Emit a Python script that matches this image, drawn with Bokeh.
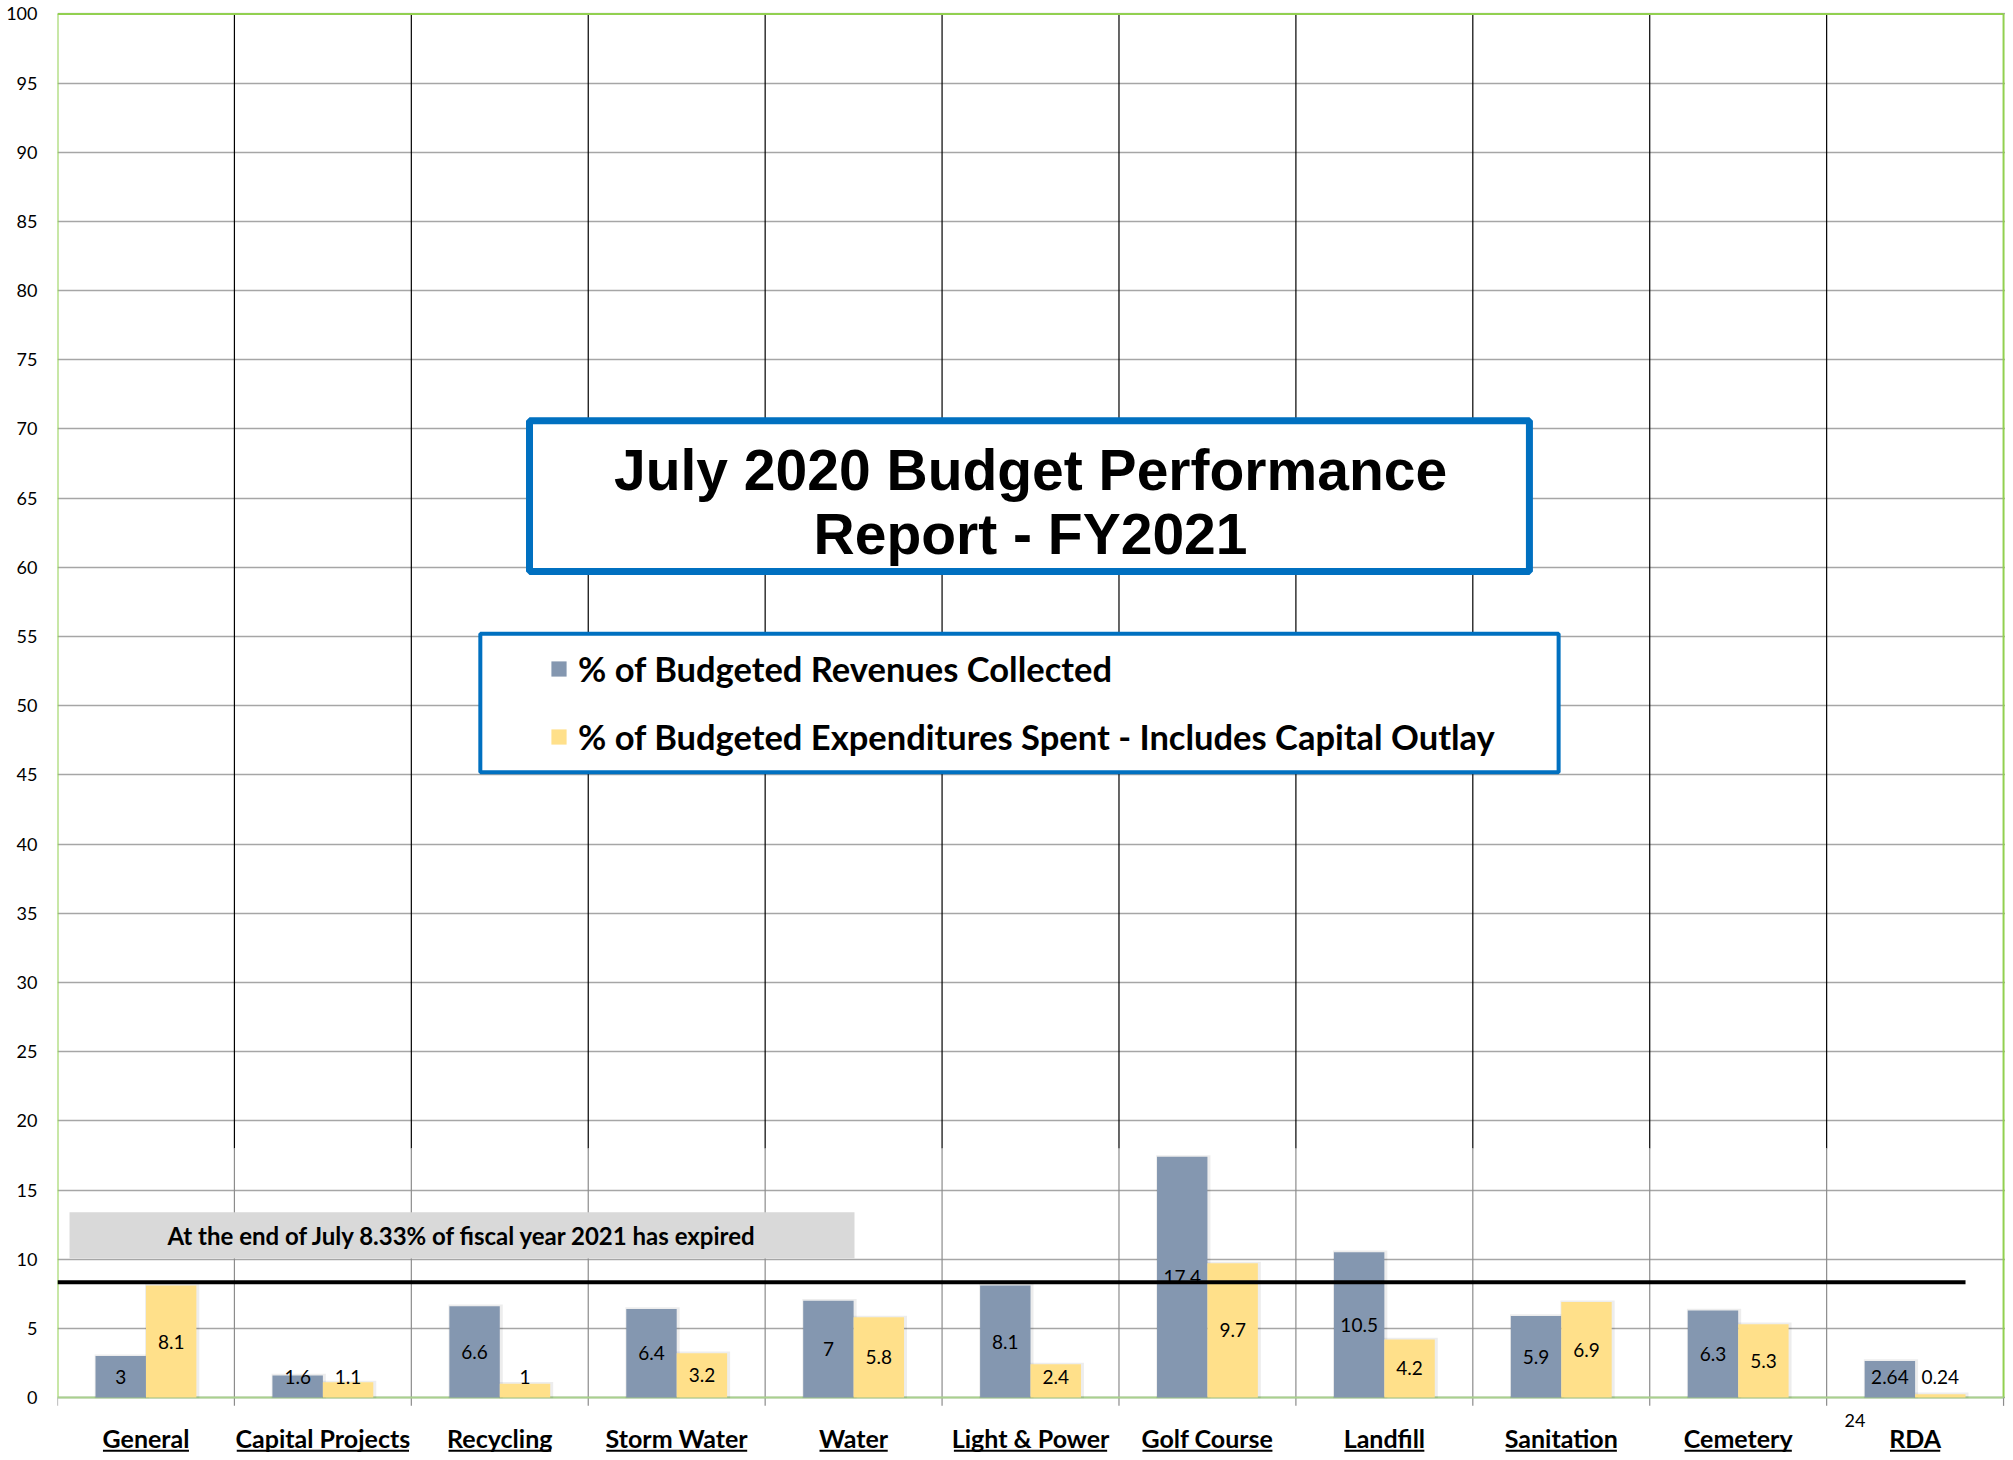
from bokeh.plotting import figure
from bokeh.models import Range1d, FixedTicker, Legend, LegendItem
from bokeh.core.properties import value
from bokeh.embed import file_html
from bokeh.resources import INLINE

# ---------------- data ----------------
categories = ["General", "Capital Projects", "Recycling", "Storm Water", "Water",
              "Light & Power", "Golf Course", "Landfill", "Sanitation", "Cemetery", "RDA"]
revenues = [3, 1.6, 6.6, 6.4, 7, 8.1, 17.4, 10.5, 5.9, 6.3, 2.64]
expenditures = [8.1, 1.1, 1, 3.2, 5.8, 2.4, 9.7, 4.2, 6.9, 5.3, 0.24]
series_names = ["% of Budgeted Revenues Collected",
                "% of Budgeted Expenditures Spent - Includes Capital Outlay"]
y_ticks = [0, 5, 10, 15, 20, 25, 30, 35, 40, 45, 50, 55, 60, 65, 70, 75, 80, 85, 90, 95, 100]
expired_pct = 8.33
title_lines = ["July 2020 Budget Performance", "Report - FY2021"]
note_text = "At the end of July 8.33% of fiscal year 2021 has expired"
page_number = "24"

# ---------------- style ----------------
BLUE = "#8497B0"
GOLD = "#FFE08A"
BOX_BLUE = "#0070C0"
GREEN = "#92D050"
FONT = "Lato"

n = len(categories)
centers = [i + 0.5 for i in range(n)]
bw = 0.285

W, H = 2005, 1456
p = figure(width=W, height=H, output_backend="svg", toolbar_location=None,
           x_range=Range1d(0, 11.011), y_range=Range1d(-4.26, 100.1),
           x_axis_location=None, min_border_left=57, min_border_right=0,
           min_border_top=12, min_border_bottom=0)
p.outline_line_color = None
p.background_fill_color = "white"

# y axis
p.yaxis.ticker = FixedTicker(ticks=y_ticks)
p.yaxis.bounds = (0, 100)
p.yaxis.axis_line_color = None
p.yaxis.major_tick_out = 0
p.yaxis.major_tick_in = 0
p.yaxis.minor_tick_line_color = None
p.yaxis.major_label_standoff = 20
p.yaxis.major_label_text_font = FONT
p.yaxis.major_label_text_font_size = "18px"
p.yaxis.major_label_text_color = "black"
p.ygrid.ticker = FixedTicker(ticks=y_ticks)
p.ygrid.grid_line_color = "#A6A6A6"
p.ygrid.grid_line_width = 1.5
p.xgrid.visible = False

# vertical category separators
inner = list(range(1, n))
bounds_all = list(range(0, n + 1))
p.segment(x0=inner, y0=[18] * len(inner), x1=inner, y1=[100] * len(inner),
          line_color="black", line_width=1.2)
p.segment(x0=inner, y0=[0] * len(inner), x1=inner, y1=[18] * len(inner),
          line_color="#8C8C8C", line_width=1.2)
p.segment(x0=bounds_all, y0=[0] * len(bounds_all), x1=bounds_all, y1=[-0.6] * len(bounds_all),
          line_color="#8C8C8C", line_width=1.2)

# plot-area border
p.segment(x0=[0, 0, n], y0=[0, 100, 0], x1=[0, n, n], y1=[100, 100, 100],
          line_color=GREEN, line_width=2)
p.segment(x0=[0], y0=[0], x1=[n], y1=[0], line_color="#A9D18E", line_width=2)

# title box
p.quad(left=2.668, right=8.32, bottom=59.7, top=70.6,
       fill_color="white", line_color=BOX_BLUE, line_width=7)
p.text(x=[5.5, 5.5], y=[67.0, 62.4], text=title_lines,
       text_font=value("Liberation Sans"), text_font_style="bold",
       text_font_size="57px", text_align="center", text_baseline="middle",
       text_color="black")

# legend box
p.quad(left=2.39, right=8.485, bottom=45.2, top=55.2,
       fill_color="white", line_color=BOX_BLUE, line_width=4)

# note box
p.quad(left=0.068, right=4.505, bottom=10.05, top=13.4,
       fill_color="#D9D9D9", line_color=None)
p.text(x=[2.29], y=[11.72], text=[note_text], text_font=value(FONT),
       text_font_style="bold", text_font_size="24px", text_align="center",
       text_baseline="middle", text_color="black")

# bars (with a faint soft shadow)
x_rev = [c - bw / 2 for c in centers]
x_exp = [c + bw / 2 for c in centers]
for xs, vals in ((x_rev, revenues), (x_exp, expenditures)):
    p.vbar(x=[x + 0.006 for x in xs], top=[v + 0.12 for v in vals], bottom=-0.05,
           width=bw + 0.022, fill_color="black", fill_alpha=0.07, line_color=None)
r_rev = p.vbar(x=x_rev, top=revenues, bottom=0, width=bw, fill_color=BLUE, line_color=None)
r_exp = p.vbar(x=x_exp, top=expenditures, bottom=0, width=bw, fill_color=GOLD, line_color=None)

# expired line
p.segment(x0=[0], y0=[expired_pct], x1=[n - 0.5 + bw], y1=[expired_pct],
          line_color="black", line_width=4)

# bar labels
lab_min = 1.5
p.text(x=x_rev, y=[max(v / 2, lab_min) for v in revenues], text=[f"{v:g}" for v in revenues],
       text_font=value(FONT), text_font_size="19px", text_align="center",
       text_baseline="middle", text_color="black")
p.text(x=x_exp, y=[max(v / 2, lab_min) for v in expenditures], text=[f"{v:g}" for v in expenditures],
       text_font=value(FONT), text_font_size="19px", text_align="center",
       text_baseline="middle", text_color="black")

# category labels with underline
cat_fs = 25
p.text(x=centers, y=[-2.9] * n, text=categories, text_font=value(FONT),
       text_font_style="bold", text_font_size=f"{cat_fs}px", text_align="center",
       text_baseline="middle", text_color="black")

cw = {"a": .51, "b": .56, "c": .46, "d": .56, "e": .52, "f": .33, "g": .50, "h": .56,
      "i": .25, "j": .25, "k": .52, "l": .25, "m": .84, "n": .56, "o": .56, "p": .56,
      "r": .37, "s": .43, "t": .36, "u": .56, "v": .50, "w": .76, "y": .50, " ": .25,
      "&": .67, "C": .66, "G": .71, "R": .61, "D": .72, "A": .68, "P": .59, "W": .97,
      "L": .49, "S": .53}
unit_px = 1946 / n
half_w = [sum(cw.get(ch, .55) for ch in s) * cat_fs / unit_px / 2 for s in categories]
p.segment(x0=[c - h for c, h in zip(centers, half_w)], y0=[-3.85] * n,
          x1=[c + h for c, h in zip(centers, half_w)], y1=[-3.85] * n,
          line_color="black", line_width=2)

p.text(x=[10.16], y=[-1.66], text=[page_number], text_font=value(FONT),
       text_font_size="18px", text_align="center", text_baseline="middle",
       text_color="black")

legend = Legend(items=[LegendItem(label=series_names[0], renderers=[r_rev]),
                       LegendItem(label=series_names[1], renderers=[r_exp])],
                location=(492, 699), orientation="vertical", padding=0, margin=0,
                spacing=27, glyph_width=19, glyph_height=19, label_standoff=10,
                label_height=41, label_text_font=FONT, label_text_font_style="bold",
                label_text_font_size="34.5px", label_text_color="black",
                border_line_color=None, background_fill_alpha=0)
p.add_layout(legend, "center")

open("out.html", "w").write(file_html(p, INLINE))
